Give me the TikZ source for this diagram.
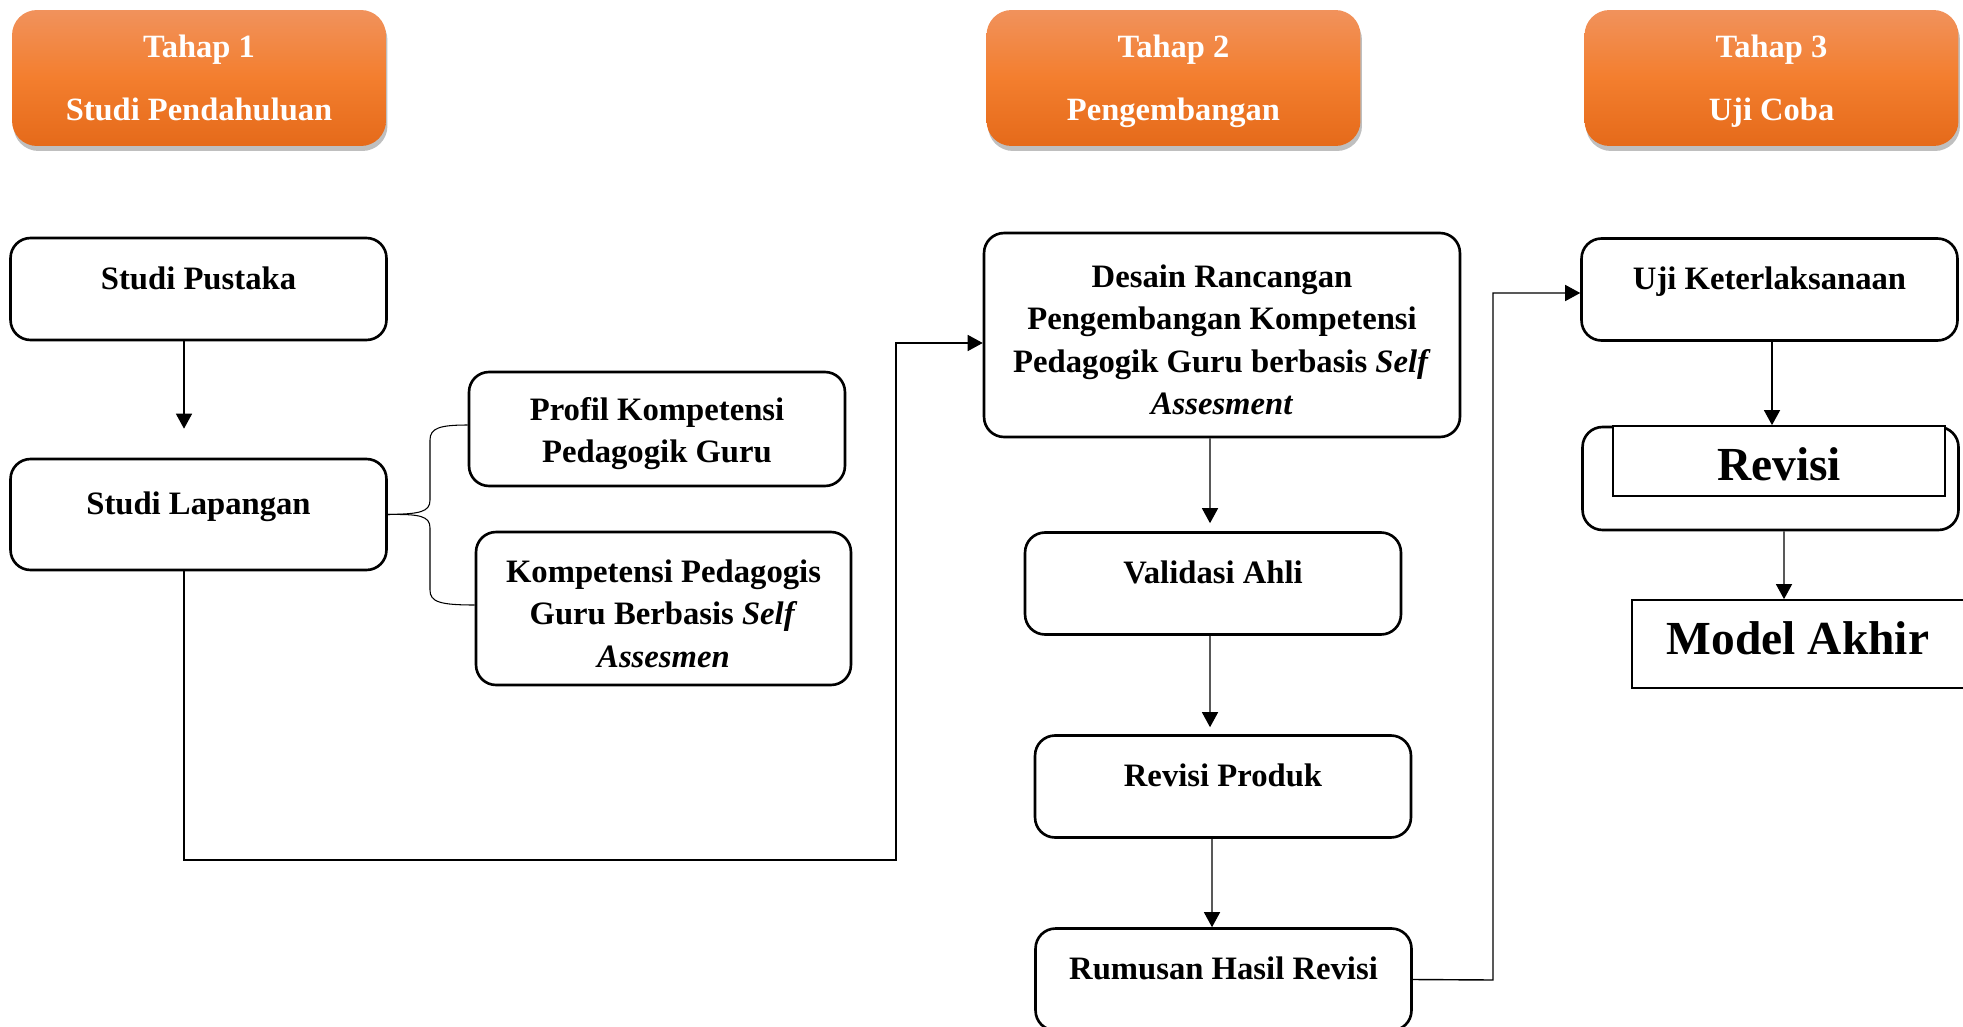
\documentclass[tikz,border=0pt]{standalone}
\usepackage{fontspec}
\setmainfont{Liberation Serif}
\usetikzlibrary{arrows.meta,shadows}
\definecolor{hdrtop}{RGB}{241,146,92}
\definecolor{hdrmid}{RGB}{243,126,46}
\definecolor{hdrbot}{RGB}{229,106,26}
\newcommand{\boxfont}{\fontsize{18.6}{24.2}\selectfont\bfseries}
\newcommand{\hdrfont}{\fontsize{18.5}{36}\selectfont\bfseries}
\newcommand{\bigfont}{\fontsize{27}{32}\selectfont\bfseries}
\newcommand{\topgap}{\rule{0pt}{1em}}

\begin{document}
\begin{tikzpicture}[x=0.02cm,y=-0.02cm,>={Triangle[length=0.3cm,width=0.32cm]},
  stage/.style={rounded corners=0.5cm,top color=hdrtop,bottom color=hdrbot,middle color=hdrmid,
    text=white,font=\hdrfont,align=center,minimum width=7.48cm,minimum height=2.72cm,
    drop shadow={shadow xshift=0.03cm,shadow yshift=-0.1cm,fill=black,opacity=0.25}},
  stepbox/.style={draw,line width=1.5pt,rounded corners=0.4cm,font=\boxfont,align=center,
    minimum width=7.52cm,minimum height=2.04cm},
  oneline/.style={text height=0pt,text depth=0pt},
  plainbox/.style={draw,line width=1pt,fill=white,font=\bigfont,minimum width=6.64cm,text depth=0pt},
  link/.style={->,line width=0.8pt},
  brace/.style={line width=0.6pt}]
\useasboundingbox (0,0) rectangle (1963,1027);

% tahap
\node[stage] (tahap1) at (199,78) {Tahap 1\\\smash{Studi Pendahuluan}};
\node[stage] (tahap2) at (1173.5,78) {Tahap 2\\\smash{Pengembangan}};
\node[stage] (tahap3) at (1771.5,78) {Tahap 3\\\smash{Uji Coba}};

% tahap 1
\node[stepbox,oneline] (pustaka) at (198.5,289) {Studi Pustaka};
\node[stepbox,oneline,minimum height=2.22cm] (lapangan) at (198.5,514.5) {Studi Lapangan};
\node[stepbox,minimum height=2.28cm] (profil) at (657,429) {\topgap Profil Kompetensi\\Pedagogik Guru};
\node[stepbox,minimum width=7.5cm,minimum height=3.06cm] (kompeten) at (663.5,608.5)
  {\topgap Kompetensi Pedagogis\\Guru Berbasis \textit{Self}\\\textit{Assesmen}};

% tahap 2
\node[stepbox,minimum width=9.52cm,minimum height=4.08cm] (desain) at (1222,335)
  {\topgap Desain Rancangan\\Pengembangan Kompetensi\\Pedagogik Guru berbasis \textit{Self}\\\textit{Assesment}};
\node[stepbox,oneline] (validasi) at (1213,583.5) {Validasi Ahli};
\node[stepbox,oneline] (produk) at (1223,786.5) {Revisi Produk};
\node[stepbox,oneline] (rumusan) at (1223.5,979.5) {Rumusan Hasil Revisi};

% tahap 3
\node[stepbox,oneline] (uji) at (1769.5,289.5) {Uji Keterlaksanaan};
\node[stepbox,minimum height=2.06cm] (revluar) at (1770.5,478.5) {};
\node[plainbox,minimum height=1.4cm,text height=22.7pt] (revisi) at (1779,461) {Revisi};
\node[plainbox,minimum height=1.76cm,text height=12pt] (model) at (1798,644) {Model Akhir};

% alur
\coordinate (belok1) at (896,860);
\coordinate (belok2) at (1493,980);
\draw[link] ([xshift=-0.29cm]pustaka.south) -- ([xshift=-0.29cm,yshift=0.58cm]lapangan.north);
\draw[link] ([xshift=-0.29cm]lapangan.south) |- (belok1) |- ([yshift=-0.16cm]desain.west);
\draw[link] ([xshift=-0.24cm]desain.south) -- ([xshift=-0.06cm,yshift=0.16cm]validasi.north);
\draw[link] ([xshift=-0.06cm]validasi.south) -- ([xshift=-0.26cm,yshift=0.14cm]produk.north);
\draw[link] ([xshift=-0.22cm]produk.south) -- ([xshift=-0.23cm]rumusan.north);
\draw[link] (rumusan.east) -- (belok2) |- ([yshift=-0.07cm]uji.west);
\draw[link] ([xshift=0.05cm]uji.south) -- ([xshift=0.05cm]revisi.north -| uji.south);
\draw[link] ([xshift=0.27cm]revluar.south) -- ([xshift=-0.28cm]model.north);

% kurung
\draw[brace] (lapangan.east) .. controls (420,514) and (430,512) .. (430,500) -- (430,440)
  .. controls (430,428) and (440,425) .. ([yshift=0.08cm]profil.west);
\draw[brace] (lapangan.east) .. controls (420,514) and (430,516) .. (430,528) -- (430,590)
  .. controls (430,602) and (440,605) .. ([yshift=0.07cm]kompeten.west);
\end{tikzpicture}
\end{document}
